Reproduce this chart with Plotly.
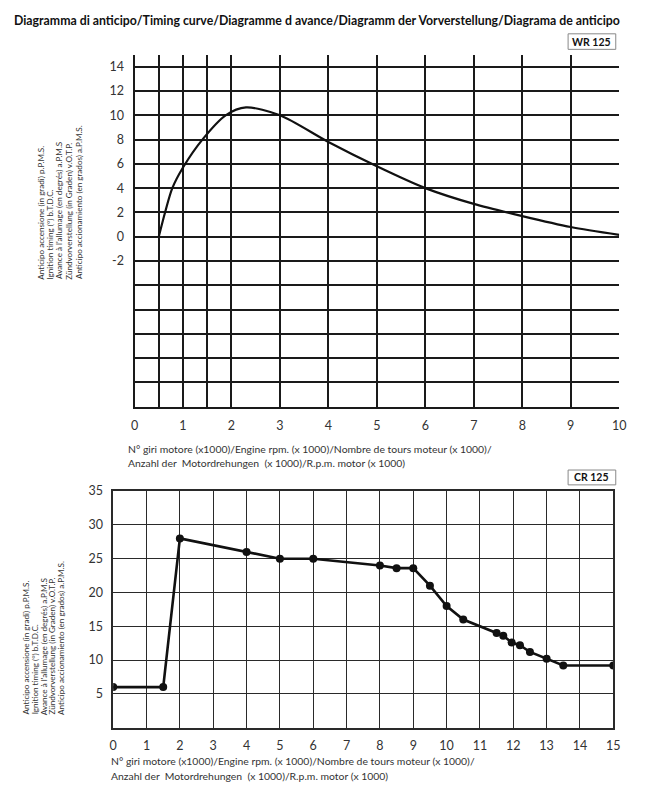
import plotly.graph_objects as go

# ---------- data ----------
wr_rpm = [0.5, 0.63, 0.78, 1.0, 1.4, 1.88, 2.3, 3.0, 4.0, 5.0, 6.0, 7.0, 8.0, 9.0, 10.0]
wr_adv = [0.0, 2.0, 4.0, 5.7, 8.0, 10.0, 10.65, 10.0, 7.8, 5.8, 4.0, 2.7, 1.7, 0.8, 0.15]

cr_rpm = [0, 1.5, 2, 4, 5, 6, 8, 8.5, 9, 9.5, 10, 10.5, 11.5, 11.7, 11.95, 12.2, 12.5, 13, 13.5, 15]
cr_adv = [6.0, 6.0, 28.0, 26.0, 25.0, 25.0, 24.0, 23.6, 23.6, 21.0, 18.0, 16.0, 14.0, 13.6, 12.6, 12.2, 11.2, 10.2, 9.2, 9.2]

wr_xticks = [0, 0.5, 1, 1.5, 2, 3, 4, 5, 6, 7, 8, 9, 10]
wr_xlabels = ["0", "", "1", "", "2", "3", "4", "5", "6", "7", "8", "9", "10"]
wr_yticks = [-14, -12, -10, -8, -6, -4, -2, 0, 2, 4, 6, 8, 10, 12, 14]
wr_ylabels = ["", "", "", "", "", "", "-2", "0", "2", "4", "6", "8", "10", "12", "14"]

cr_xticks = list(range(0, 16))
cr_xlabels = [str(v) for v in cr_xticks]
cr_yticks = [0, 5, 10, 15, 20, 25, 30, 35]
cr_ylabels = ["", "5", "10", "15", "20", "25", "30", "35"]

title_text = "Diagramma di anticipo/Timing curve/Diagramme d avance/Diagramm der Vorverstellung/Diagrama de anticipo"
x_title_lines = ["N° giri motore (x1000)/Engine rpm. (x 1000)/Nombre de tours moteur (x 1000)/",
                 "Anzahl der  Motordrehungen  (x 1000)/R.p.m. motor (x 1000)"]
y_title_lines = ["Anticipo accensione (in gradi) p.P.M.S.",
                 "Ignition timing (°) b.T.D.C.",
                 "Avance à l'allumage (en degrés) a.P.M.S",
                 "Zündvorverstellung (in Graden) v.O.T.P.",
                 "Anticipo accionamiento (en grados) a.P.M.S."]

# page body keeps its default 8px margin, so the figure is 16px smaller
OFF = 8
W, H = 645 - 2 * OFF, 800 - 2 * OFF
def px(x):
    return (x - OFF) / W
def py(y):
    return 1 - (y - OFF) / H

FONT = "Lato"
TXT = "#333333"

fig = go.Figure()
fig.add_trace(go.Scatter(x=wr_rpm, y=wr_adv, mode="lines", line=dict(color="#111111", width=2.2, shape="spline", smoothing=0.8),
                         xaxis="x", yaxis="y", showlegend=False, hoverinfo="skip"))
fig.add_trace(go.Scatter(x=cr_rpm, y=cr_adv, mode="lines+markers", line=dict(color="#111111", width=2.6),
                         marker=dict(color="#111111", size=8), xaxis="x2", yaxis="y2", showlegend=False, hoverinfo="skip"))

axis_common = dict(showgrid=True, zeroline=False, ticks="", tickfont=dict(family=FONT, size=12.5, color=TXT), fixedrange=True)

fig.update_layout(
    width=W, height=H,
    margin=dict(l=0, r=0, t=0, b=0),
    paper_bgcolor="white", plot_bgcolor="white",
    xaxis=dict(domain=[px(132.7), px(626)], range=[0, 10], tickvals=wr_xticks, ticktext=wr_xlabels,
               gridcolor="#1a1a1a", gridwidth=2, showline=True, linecolor="#1a1a1a", linewidth=2,
               ticklabelstandoff=6, anchor="y", **axis_common),
    yaxis=dict(domain=[py(402.7), py(47)], range=[-14, 15], tickvals=wr_yticks, ticktext=wr_ylabels,
               gridcolor="#1a1a1a", gridwidth=2, showline=True, linecolor="#1a1a1a", linewidth=2,
               ticklabelstandoff=6, anchor="x", **axis_common),
    xaxis2=dict(domain=[px(111), px(620)], range=[0, 15], tickvals=cr_xticks, ticktext=cr_xlabels,
                gridcolor="#2a2a2a", gridwidth=1.3, showline=True, mirror=True, linecolor="#2a2a2a", linewidth=1.6,
                ticklabelstandoff=6, anchor="y2", **axis_common),
    yaxis2=dict(domain=[py(727), py(488)], range=[0, 35], tickvals=cr_yticks, ticktext=cr_ylabels,
                gridcolor="#2a2a2a", gridwidth=1.3, showline=True, mirror=True, linecolor="#2a2a2a", linewidth=1.6,
                ticklabelstandoff=6, anchor="x2", **axis_common),
)

ann = []
ann.append(dict(x=px(8), y=py(13), xref="paper", yref="paper", text="<b>" + title_text + "</b>", showarrow=False,
                xanchor="left", yanchor="middle", font=dict(family=FONT, size=12.3, color="#111111")))
# model boxes
for label, y0, y1 in [("WR 125", 26, 41.7), ("CR 125", 466.7, 481.7)]:
    fig.add_shape(type="rect", xref="paper", yref="paper", x0=px(574), x1=px(622.5), y0=py(y1), y1=py(y0),
                  line=dict(color="#888888", width=1), fillcolor="white")
    ann.append(dict(x=px(598), y=py((y0 + y1) / 2), xref="paper", yref="paper", text="<b>" + label + "</b>",
                    showarrow=False, xanchor="center", yanchor="middle", font=dict(family=FONT, size=10.5, color="#111111")))
# x axis titles (one annotation per line)
for xl, ycs in [(124, [445, 460]), (107, [761, 776])]:
    for line, yc in zip(x_title_lines, ycs):
        ann.append(dict(x=px(xl), y=py(yc), xref="paper", yref="paper", text=line,
                        showarrow=False, xanchor="left", yanchor="middle",
                        font=dict(family=FONT, size=10.4, color=TXT)))
# y axis titles (rotated, one annotation per line)
for xcs, ybot in [([38, 47, 56.5, 66, 76], 276), ([22, 31, 40, 49, 58], 716)]:
    for line, xc in zip(y_title_lines, xcs):
        ann.append(dict(x=px(xc), y=py(ybot), xref="paper", yref="paper", text=line, textangle=-90,
                        showarrow=False, xanchor="center", yanchor="bottom",
                        font=dict(family=FONT, size=8.1, color=TXT)))
fig.update_layout(annotations=ann)

fig.write_html("out.html", config={"displayModeBar": False})
